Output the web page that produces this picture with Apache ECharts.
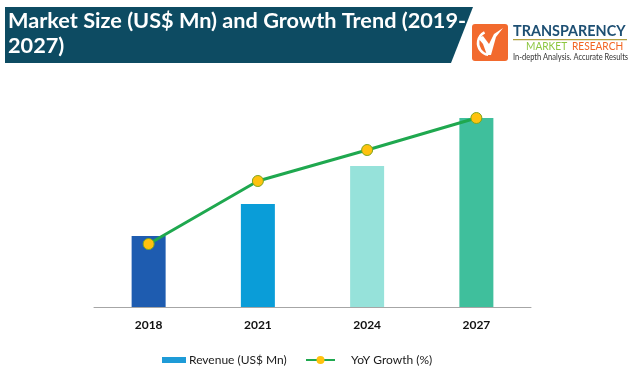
<!DOCTYPE html>
<html>
<head>
<meta charset="utf-8">
<script src="https://cdn.jsdelivr.net/npm/echarts@6/dist/echarts.min.js"></script>
<style>
html,body{margin:0;padding:0;background:#fff;}
#c{width:635px;height:392px;}
</style>
</head>
<body>
<div id="c"></div>
<script>
const categories = ['2018', '2021', '2024', '2027'];
const revenue = [71, 103, 141, 189];
const yoyGrowth = [63, 126, 157, 189];
const barColors = ['#1E5CB0', '#0A9DD8', '#96E2DA', '#3FBF9C'];

const chart = echarts.init(document.getElementById('c'));
const F = 'Lato, "Open Sans", sans-serif';

chart.setOption({
  backgroundColor: '#ffffff',
  animation: false,
  grid: { left: 94, right: 104, top: 107, bottom: 85 },
  xAxis: {
    type: 'category',
    data: categories,
    axisLine: { show: true, lineStyle: { color: '#A6A6A6', width: 1 } },
    axisTick: { show: false },
    axisLabel: { color: '#111', fontFamily: F, fontWeight: 'bold', fontSize: 12, margin: 12 }
  },
  yAxis: {
    type: 'value', min: 0, max: 200,
    show: false,
    splitLine: { show: false }
  },
  legend: [
    {
      left: 157, top: 349,
      itemWidth: 24, itemHeight: 6, itemGap: 10,
      data: [{ name: 'Revenue (US$ Mn)', icon: 'rect', itemStyle: { color: '#1E9BD7' } }],
      textStyle: { color: '#1a1a1a', fontFamily: F, fontSize: 12, padding: [0, 0, 0, -2] }
    },
    {
      left: 300, top: 349,
      itemWidth: 29, itemHeight: 10,
      data: [{ name: 'YoY Growth (%)', itemStyle: { borderWidth: 0 } }],
      textStyle: { color: '#1a1a1a', fontFamily: F, fontSize: 12, padding: [0, 0, 0, 11] }
    }
  ],
  series: [
    {
      name: 'Revenue (US$ Mn)',
      type: 'bar',
      data: revenue.map((v, i) => ({ value: v, itemStyle: { color: barColors[i] } })),
      barWidth: 34,
      itemStyle: { color: '#1E9BD7' }
    },
    {
      name: 'YoY Growth (%)',
      type: 'line',
      data: yoyGrowth,
      symbol: 'circle',
      symbolSize: 11,
      lineStyle: { color: '#1FA84F', width: 3 },
      itemStyle: { color: '#FFC20E', borderColor: '#7FA61E', borderWidth: 1 }
    }
  ],
  graphic: [
    {
      type: 'polygon',
      shape: { points: [[5, 7], [473, 7], [451, 63], [5, 63]] },
      style: { fill: '#0D4B62' }
    },
    {
      type: 'text', x: 8, y: 10,
      style: { text: 'Market Size (US$ Mn) and Growth Trend (2019-', fill: '#fff', font: 'bold 21.7px ' + F }
    },
    {
      type: 'text', x: 8, y: 35,
      style: { text: '2027)', fill: '#fff', font: 'bold 21.7px ' + F }
    },
    {
      type: 'rect', shape: { x: 472, y: 24, width: 36, height: 37, r: 3 },
      style: { fill: '#F26A2E' }
    },
    {
      type: 'polygon',
      shape: { points: [[478, 38], [483, 36], [489, 44], [494, 34], [503, 28], [496, 37], [491, 55], [487, 55], [483, 44]] },
      style: { fill: '#fff' }
    },
    {
      type: 'arc', shape: { cx: 490, cy: 43, r: 12, startAngle: Math.PI * 0.55, endAngle: Math.PI * 1.35 },
      style: { stroke: '#fff', lineWidth: 2.5, fill: null }
    },
    {
      type: 'text', x: 513, y: 23, scaleX: 0.9,
      style: { text: 'TRANSPARENCY', fill: '#1D4F73', font: 'bold 16px ' + F }
    },
    {
      type: 'rect', shape: { x: 513, y: 39, width: 114, height: 1.2 },
      style: { fill: '#B0A040' }
    },
    {
      type: 'text', x: 526, y: 41, scaleX: 0.92,
      style: { text: 'MARKET', fill: '#8DC63F', font: '11px ' + F }
    },
    {
      type: 'text', x: 572, y: 41, scaleX: 0.92,
      style: { text: 'RESEARCH', fill: '#F26522', font: '11px ' + F }
    },
    {
      type: 'text', x: 513, y: 53, scaleX: 0.88,
      style: { text: 'In-depth Analysis. Accurate Results', fill: '#333', font: '8.5px ' + F }
    }
  ]
});
</script>
</body>
</html>
